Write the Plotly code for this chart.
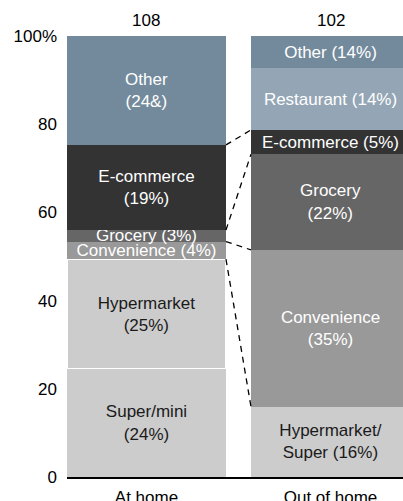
import plotly.graph_objects as go

categories = ["At home", "Out of home"]
totals = ["108", "102"]

# segments bottom -> top, values as drawn (% of bar height)
home_names = ["Super/mini", "Hypermarket", "Convenience", "Grocery", "E-commerce", "Other"]
home_values = [24.5, 24.9, 4.0, 2.6, 19.3, 24.7]
home_labels = ["Super/mini<br>(24%)", "Hypermarket<br>(25%)", "Convenience (4%)",
               "Grocery (3%)", "E-commerce<br>(19%)", "Other<br>(24&)"]

away_names = ["Hypermarket/Super", "Convenience", "Grocery", "E-commerce", "Restaurant", "Other"]
away_values = [15.9, 35.6, 21.7, 5.5, 14.0, 7.3]
away_labels = ["Hypermarket/<br>Super (16%)", "Convenience<br>(35%)", "Grocery<br>(22%)",
               "E-commerce (5%)", "Restaurant (14%)", "Other (14%)"]

colors = {
    "Super/mini": "#cccccc", "Hypermarket": "#cccccc", "Hypermarket/Super": "#cccccc",
    "Convenience": "#999999", "Grocery": "#666666", "E-commerce": "#333333",
    "Restaurant": "#94a6b5", "Other": "#738a9c",
}
text_colors = {
    "Super/mini": "#1a1a1a", "Hypermarket": "#1a1a1a", "Hypermarket/Super": "#1a1a1a",
}

FONT = "Liberation Sans, Arial, sans-serif"
BARGAP = 0.136

fig = go.Figure()

def add_bar(cat, names, values, labels):
    for name, v, lab in zip(names, values, labels):
        lw = 1 if name == "Hypermarket" else 0
        fig.add_trace(go.Bar(
            x=[cat], y=[v], name=name, text=[lab],
            marker=dict(color=colors[name], line=dict(color="white", width=lw)),
            textposition="inside", insidetextanchor="middle", textangle=0,
            constraintext="none",
            insidetextfont=dict(family=FONT, size=17, color=text_colors.get(name, "white")),
            showlegend=False, hoverinfo="skip",
        ))

add_bar(categories[0], home_names, home_values, home_labels)
add_bar(categories[1], away_names, away_values, away_labels)

# boundaries for connecting dashed lines
def bounds(names, values):
    out, c = {}, 0
    for n, v in zip(names, values):
        out[n] = (c, c + v)
        c += v
    return out

hb = bounds(home_names, home_values)
ab = bounds(away_names, away_values)
half = (1 - BARGAP) / 2
pairs = [(hb["Convenience"][0], ab["Convenience"][0]),
         (hb["Grocery"][0], ab["Grocery"][0]),
         (hb["E-commerce"][0], ab["E-commerce"][0]),
         (hb["E-commerce"][1], ab["E-commerce"][1])]
for y0, y1 in pairs:
    fig.add_shape(type="line", xref="x", yref="y", x0=0 + half, x1=1 - half, y0=y0, y1=y1,
                  line=dict(color="black", width=1.3, dash="6px,5px"))

for i, t in enumerate(totals):
    fig.add_annotation(x=categories[i], y=100, xref="x", yref="y", text=t, showarrow=False,
                       yanchor="bottom", yshift=4, font=dict(family=FONT, size=17, color="black"))

fig.update_layout(
    barmode="stack", bargap=BARGAP,
    width=403, height=501,
    margin=dict(l=67, r=0, t=36, b=24, autoexpand=False),
    plot_bgcolor="white", paper_bgcolor="white",
    font=dict(family=FONT, size=17, color="black"),
    xaxis=dict(range=[-half, 1.394], showline=True, linecolor="black", linewidth=2,
               ticks="", showgrid=False, tickfont=dict(size=17), fixedrange=True,
               automargin=False, ticklabelstandoff=4),
    yaxis=dict(range=[0, 100], tickvals=[0, 20, 40, 60, 80, 100],
               ticktext=["0", "20", "40", "60", "80", "100%"], showgrid=False,
               zeroline=False, showline=False, ticks="", ticklabelstandoff=9,
               tickfont=dict(size=17), automargin=False, fixedrange=True),
)

fig.write_html("out.html", config={"displayModeBar": False, "staticPlot": True},
               post_script="document.body.style.margin='0';document.body.style.overflow='hidden';")
